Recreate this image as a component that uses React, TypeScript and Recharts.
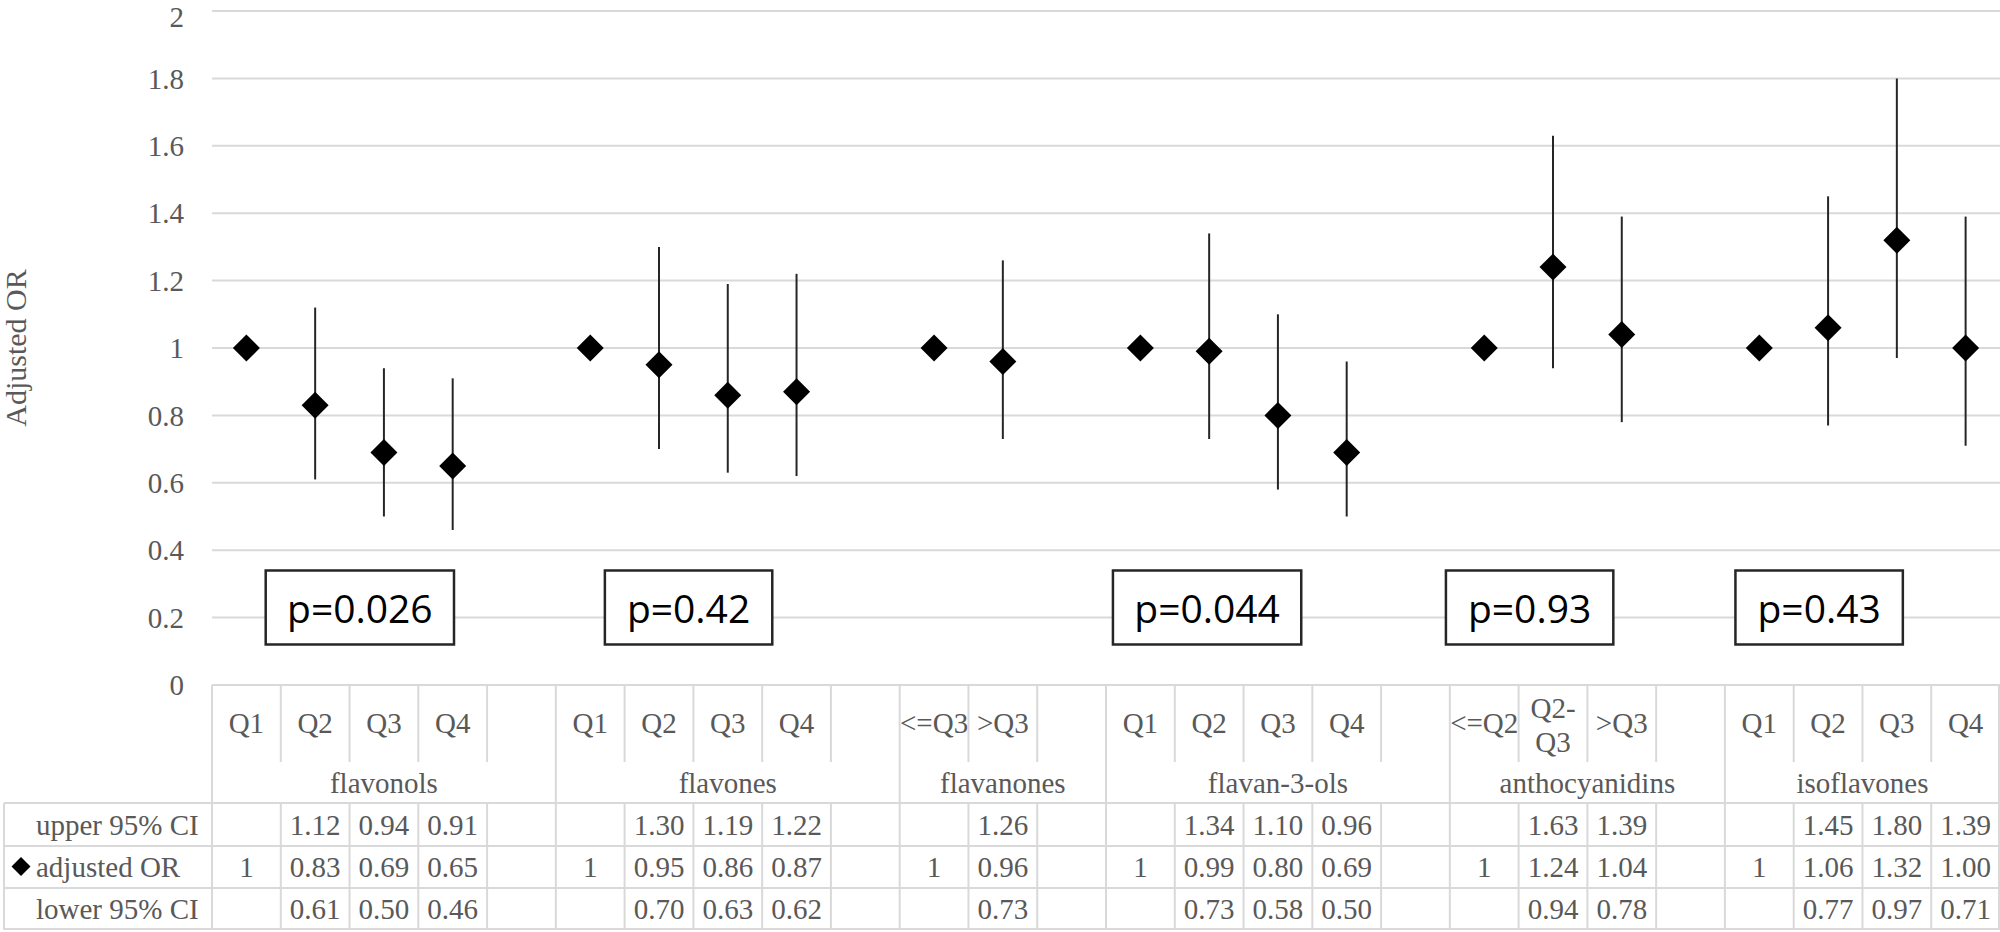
import { ComposedChart, Scatter, ErrorBar, XAxis, YAxis, CartesianGrid, ReferenceDot } from 'recharts'

const groups = ['flavonols', 'flavones', 'flavanones', 'flavan-3-ols', 'anthocyanidins', 'isoflavones']

const levels = [
  ['Q1', 'Q2', 'Q3', 'Q4', ''],
  ['Q1', 'Q2', 'Q3', 'Q4', ''],
  ['<=Q3', '>Q3', ''],
  ['Q1', 'Q2', 'Q3', 'Q4', ''],
  ['<=Q2', 'Q2-\nQ3', '>Q3', ''],
  ['Q1', 'Q2', 'Q3', 'Q4'],
]

const adjustedOR = [
  [1, 0.83, 0.69, 0.65, null],
  [1, 0.95, 0.86, 0.87, null],
  [1, 0.96, null],
  [1, 0.99, 0.8, 0.69, null],
  [1, 1.24, 1.04, null],
  [1, 1.06, 1.32, 1.0],
]

const upperCI = [
  [null, 1.12, 0.94, 0.91, null],
  [null, 1.3, 1.19, 1.22, null],
  [null, 1.26, null],
  [null, 1.34, 1.1, 0.96, null],
  [null, 1.63, 1.39, null],
  [null, 1.45, 1.8, 1.39],
]

const lowerCI = [
  [null, 0.61, 0.5, 0.46, null],
  [null, 0.7, 0.63, 0.62, null],
  [null, 0.73, null],
  [null, 0.73, 0.58, 0.5, null],
  [null, 0.94, 0.78, null],
  [null, 0.77, 0.97, 0.71],
]

const pValues = ['p=0.026', 'p=0.42', 'p=0.044', 'p=0.93', 'p=0.43']

const yTicks = [0, 0.2, 0.4, 0.6, 0.8, 1, 1.2, 1.4, 1.6, 1.8, 2]

// p boxes: where they sit along the category axis (in column units) and on the OR axis
const pBoxX = [2.15, 6.93, 14.47, 19.16, 23.37]
const pBoxY = 0.23

type Row = {
  key: string
  group: string
  li: number
  level: string
  groupLen: number
  or: number | null
  upper: number | null
  lower: number | null
  err: [number, number] | null
}

const rows: Row[] = []
groups.forEach((g, gi) => {
  levels[gi].forEach((lv, li) => {
    const or = adjustedOR[gi][li]
    const up = upperCI[gi][li]
    const lo = lowerCI[gi][li]
    rows.push({
      key: `${g}|${li}`,
      group: g,
      li,
      level: lv,
      groupLen: levels[gi].length,
      or,
      upper: up,
      lower: lo,
      err: or != null && up != null && lo != null ? [or - lo, up - or] : null,
    })
  })
})

const W = 2000
const H = 932
const AXIS_W = 212
const TABLE_H = 245
const COL_W = (W - AXIS_W) / rows.length
const serif = "'Liberation Serif', 'Times New Roman', serif"
const GRAY = '#595959'
const LINE = '#d9d9d9'

const fmt = (v: number | null, li: number, isOR: boolean) => {
  if (v == null) return ''
  if (isOR && li === 0) return String(v)
  return v.toFixed(2)
}

function Diamond(props: any) {
  const { cx, cy, payload } = props
  if (payload == null || payload.or == null || cx == null || cy == null) return <g />
  const r = 13.5
  return <polygon points={`${cx},${cy - r} ${cx + r},${cy} ${cx},${cy + r} ${cx - r},${cy}`} fill="#000" />
}

function PBox(props: any) {
  const { cx, cy, label, dx } = props
  const x = cx + dx
  const w = 42 + 20.9 * label.length
  const h = 74
  return (
    <g>
      <rect x={x - w / 2} y={cy - h / 2} width={w} height={h} fill="#fff" stroke="#262626" strokeWidth={2.5} />
      <text x={x} y={cy} textAnchor="middle" dominantBaseline="central" fontFamily="'Open Sans', sans-serif" fontSize={39} fill="#000">
        {label}
      </text>
    </g>
  )
}

function TableTick(props: any) {
  const { x, y, payload } = props
  const idx = payload.index
  const row = rows[idx]
  if (!row) return null
  const colW = COL_W
  const left = x - colW / 2
  const right = left + colW
  const plotRight = AXIS_W + colW * rows.length
  const qEnd = y + 77
  const gEnd = y + 118
  const r1 = y + 161
  const r2 = y + 203
  const r3 = y + TABLE_H
  const txt = { fontFamily: serif, fontSize: 29, fill: GRAY }
  const lines = row.level.split('\n')

  return (
    <g>
      {row.li === 0 ? (
        <line x1={left} x2={left} y1={y} y2={r3} stroke={LINE} strokeWidth={2} />
      ) : (
        <>
          <line x1={left} x2={left} y1={y} y2={qEnd} stroke={LINE} strokeWidth={2} />
          <line x1={left} x2={left} y1={gEnd} y2={r3} stroke={LINE} strokeWidth={2} />
        </>
      )}
      {idx === rows.length - 1 && <line x1={right - 1} x2={right - 1} y1={y} y2={r3} stroke={LINE} strokeWidth={2} />}

      {lines.length === 1 ? (
        <text x={x} y={y + 38} textAnchor="middle" dominantBaseline="central" {...txt}>
          {row.level}
        </text>
      ) : (
        lines.map((t, k) => (
          <text key={k} x={x} y={y + 23 + k * 34} textAnchor="middle" dominantBaseline="central" {...txt}>
            {t}
          </text>
        ))
      )}

      {row.li === 0 && (
        <text x={left + (row.groupLen * colW) / 2} y={y + 98} textAnchor="middle" dominantBaseline="central" {...txt}>
          {row.group}
        </text>
      )}

      <text x={x} y={y + 140} textAnchor="middle" dominantBaseline="central" {...txt}>
        {fmt(row.upper, row.li, false)}
      </text>
      <text x={x} y={y + 182} textAnchor="middle" dominantBaseline="central" {...txt}>
        {fmt(row.or, row.li, true)}
      </text>
      <text x={x} y={y + 224} textAnchor="middle" dominantBaseline="central" {...txt}>
        {fmt(row.lower, row.li, false)}
      </text>

      {idx === 0 && (
        <g>
          {[gEnd, r1, r2, r3 - 1].map((ly) => (
            <line key={ly} x1={4} x2={plotRight} y1={ly} y2={ly} stroke={LINE} strokeWidth={2} />
          ))}
          <line x1={4} x2={4} y1={gEnd} y2={r3} stroke={LINE} strokeWidth={2} />
          <text x={36} y={y + 140} dominantBaseline="central" {...txt}>upper 95% CI</text>
          <polygon points={`21,${y + 172} 30.5,${y + 181.5} 21,${y + 191} 11.5,${y + 181.5}`} fill="#000" />
          <text x={36} y={y + 182} dominantBaseline="central" {...txt}>adjusted OR</text>
          <text x={36} y={y + 224} dominantBaseline="central" {...txt}>lower 95% CI</text>
        </g>
      )}
    </g>
  )
}

function YTitle(props: any) {
  const vb = props.viewBox || { x: 0, y: 11, width: AXIS_W, height: 674 }
  const cy = vb.y + vb.height / 2
  return (
    <text x={15} y={cy} transform={`rotate(-90 15 ${cy})`} textAnchor="middle" dominantBaseline="central" fontFamily={serif} fontSize={30} fill={GRAY}>
      Adjusted OR
    </text>
  )
}

export default function App() {
  return (
    <div style={{ width: W, height: H, background: '#fff' }}>
      <style>{'body{margin:0}'}</style>
      <ComposedChart width={W} height={H} data={rows} margin={{ top: 11, right: 0, bottom: 2, left: 0 }}>
        <CartesianGrid vertical={false} stroke={LINE} strokeWidth={2} />
        <XAxis
          dataKey="key"
          type="category"
          interval={0}
          height={TABLE_H}
          padding={{ left: COL_W / 2, right: COL_W / 2 }}
          tickLine={false}
          tickSize={0}
          tickMargin={0}
          axisLine={{ stroke: LINE, strokeWidth: 2 }}
          tick={(p: any) => <TableTick {...p} />}
        />
        <YAxis
          domain={[0, 2]}
          ticks={yTicks}
          width={AXIS_W}
          tickLine={false}
          axisLine={false}
          tickSize={0}
          tickMargin={28}
          tick={{ fontFamily: serif, fontSize: 29, fill: GRAY }}
          label={<YTitle />}
        />
        <Scatter dataKey="or" shape={Diamond} isAnimationActive={false}>
          <ErrorBar dataKey="err" direction="y" width={0} stroke="#262626" strokeWidth={2} />
        </Scatter>
        {pValues.map((p, i) => {
          const col = Math.floor(pBoxX[i])
          const dx = (pBoxX[i] - col - 0.5) * COL_W
          return (
            <ReferenceDot
              key={p}
              x={rows[col].key}
              y={pBoxY}
              ifOverflow="visible"
              shape={(sp: any) => <PBox {...sp} label={p} dx={dx} />}
            />
          )
        })}
      </ComposedChart>
    </div>
  )
}
